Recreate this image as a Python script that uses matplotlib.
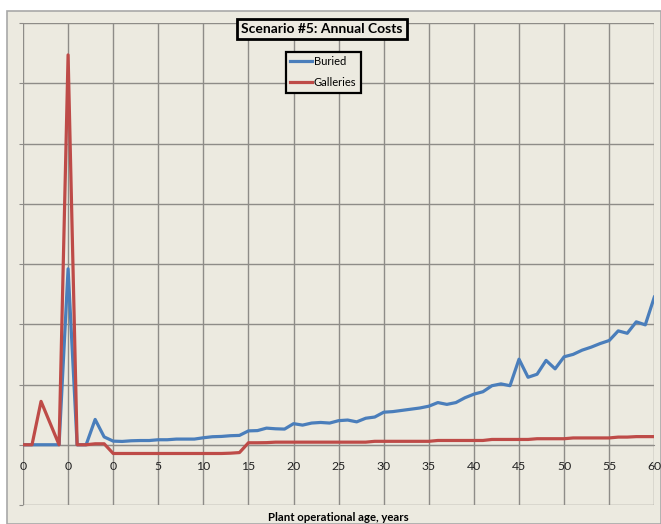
"""
Scenario #5 annual costs: buried vs galleries, by plant operational age.
"""
import matplotlib
matplotlib.use("Agg")
import matplotlib.pyplot as plt
from matplotlib.patches import Rectangle

# category labels: 10 pre-operation points (shown as 0) then years 0..60
years = [0] * 10 + list(range(0, 61))

buried = [0, 0, 0, 0, 0, 2.92, 0, 0, 0.42, 0.13,
          0.06, 0.055, 0.066, 0.07, 0.07, 0.083, 0.083, 0.094, 0.094, 0.094,
          0.116, 0.133, 0.138, 0.15, 0.155, 0.23, 0.235, 0.276, 0.265, 0.26,
          0.35, 0.326, 0.36, 0.37, 0.36, 0.40, 0.41, 0.38, 0.44, 0.46,
          0.54, 0.55, 0.57, 0.59, 0.61, 0.64, 0.70, 0.67, 0.70, 0.78,
          0.84, 0.88, 0.98, 1.01, 0.98, 1.42, 1.12, 1.17, 1.40, 1.26,
          1.46, 1.50, 1.57, 1.62, 1.68, 1.73, 1.89, 1.85, 2.04, 1.99,
          2.45]

galleries = [0, 0, 0.72, 0.36, 0, 6.47, 0, 0, 0.016, 0.016,
             -0.145, -0.145, -0.145, -0.145, -0.145, -0.145, -0.145, -0.145, -0.145, -0.145,
             -0.145, -0.145, -0.145, -0.14, -0.13, 0.033, 0.033, 0.035, 0.043, 0.043,
             0.043, 0.043, 0.043, 0.043, 0.043, 0.043, 0.043, 0.043, 0.043, 0.057,
             0.057, 0.057, 0.057, 0.057, 0.057, 0.057, 0.071, 0.071, 0.071, 0.071,
             0.071, 0.071, 0.088, 0.088, 0.088, 0.088, 0.088, 0.10, 0.10, 0.10,
             0.10, 0.113, 0.113, 0.113, 0.113, 0.113, 0.127, 0.127, 0.135, 0.135,
             0.135]

BG = "#ECEAE0"
GRID = "#8E8C88"
BLUE = "#4A7EBB"
RED = "#BE4B48"

plt.rcParams['font.family'] = ['Lato', 'DejaVu Sans']

W, H = 661, 524
fig = plt.figure(figsize=(W / 100, H / 100), dpi=100, facecolor="white")

# chart area background
fig.patches.append(Rectangle((7 / W, 0), 1 - 7 / W, 1 - 11 / H, transform=fig.transFigure,
                             facecolor=BG, edgecolor="#A8A8A8", linewidth=1.2, zorder=-10))

ax = fig.add_axes([23 / W, 1 - 505 / H, (654.3 - 23) / W, (505 - 23) / H])
ax.set_facecolor(BG)

x = list(range(len(years)))
ax.plot(x, buried, color=BLUE, linewidth=2.3, label="Buried", zorder=3)
ax.plot(x, galleries, color=RED, linewidth=2.3, label="Galleries", zorder=4)

ax.set_xlim(0, 70)
ax.set_ylim(-1, 7)
ticks = list(range(0, 71, 5))
ax.set_xticks(ticks)
ax.set_xticklabels([str(years[t]) for t in ticks])
ax.set_yticks(range(-1, 8))
ax.set_yticklabels([])
ax.grid(True, color=GRID, linewidth=1.0)
ax.set_axisbelow(True)

for side in ["top", "right", "left"]:
    ax.spines[side].set_visible(False)
ax.spines["bottom"].set_position(("data", 0))
ax.spines["bottom"].set_color(GRID)
ax.tick_params(axis="x", length=0, pad=12, labelsize=8.8, colors="#222222")
ax.tick_params(axis="y", length=3, color=GRID, direction="out")

ax.text(0.5, -0.025, "Plant operational age, years", transform=ax.transAxes,
        ha="center", va="center", fontsize=8.2, fontweight="bold")

ax.text(0.474, 0.9876, "Scenario #5: Annual Costs", transform=ax.transAxes,
        ha="center", va="center", fontsize=10, fontweight="bold", zorder=6,
        bbox=dict(boxstyle="square,pad=0.3", facecolor=BG, edgecolor="black", linewidth=2))

leg = ax.legend(loc="upper left", bbox_to_anchor=(0.4166, 0.9405), fontsize=8,
                frameon=True, fancybox=False, handlelength=1.9, handletextpad=0.2,
                labelspacing=0.9, borderpad=0.4, borderaxespad=0)
leg.get_frame().set_edgecolor("black")
leg.get_frame().set_linewidth(1.6)
leg.get_frame().set_facecolor(BG)
leg.get_frame().set_alpha(1)
leg.set_zorder(6)

fig.savefig("out.png", dpi=100, facecolor="white")
